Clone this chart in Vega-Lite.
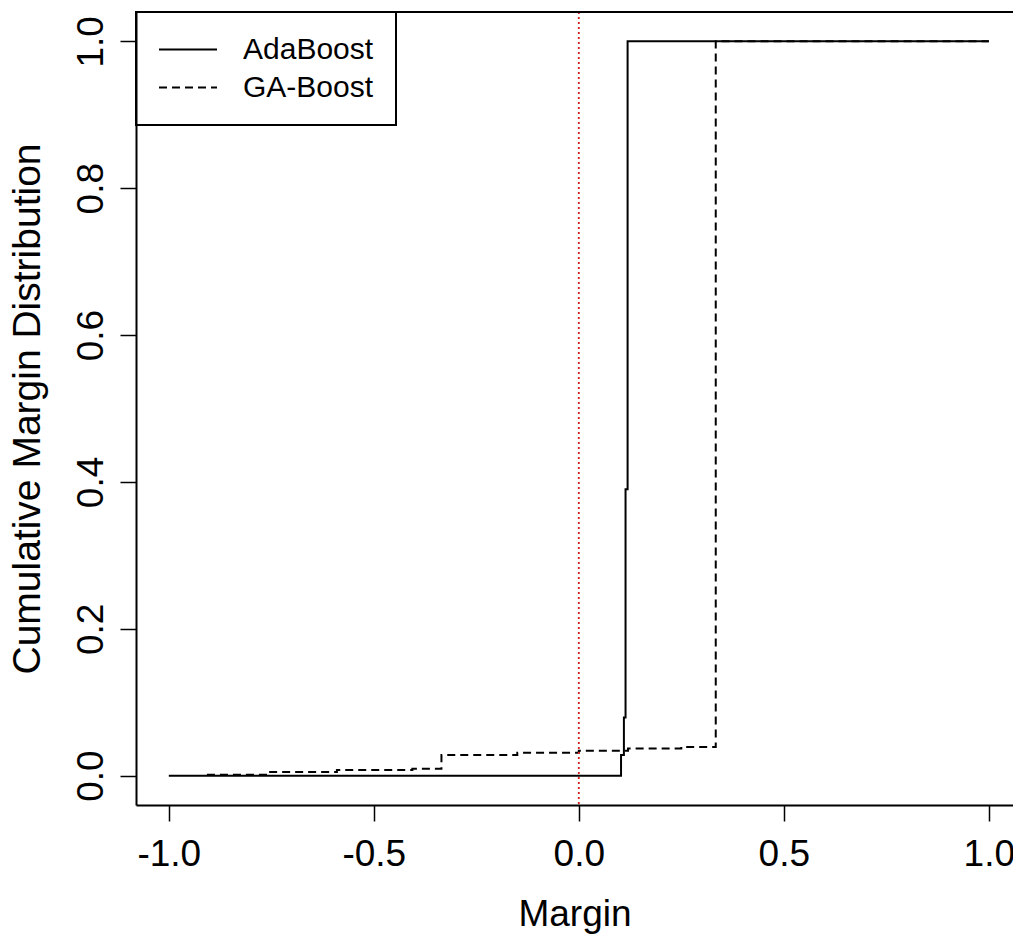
{
  "$schema": "https://vega.github.io/schema/vega-lite/v6.json",
  "width": 877,
  "height": 793,
  "autosize": {"type": "none"},
  "padding": {"left": 136, "top": 12, "right": 0, "bottom": 129},
  "background": "white",
  "config": {
    "view": {"stroke": null},
    "font": "Liberation Sans",
    "axis": {
      "grid": false,
      "domainColor": "black",
      "domainWidth": 2,
      "tickColor": "black",
      "tickWidth": 1.5,
      "tickSize": 16,
      "labelColor": "black",
      "titleColor": "black",
      "labelFont": "Liberation Sans",
      "titleFont": "Liberation Sans",
      "labelFontSize": 37,
      "titleFontWeight": "normal"
    }
  },
  "datasets": {
    "curves": [
      {"method": "AdaBoost", "margin": -1.0, "cdf": 0},
      {"method": "AdaBoost", "margin": 0.103, "cdf": 0.028},
      {"method": "AdaBoost", "margin": 0.110, "cdf": 0.079},
      {"method": "AdaBoost", "margin": 0.114, "cdf": 0.39},
      {"method": "AdaBoost", "margin": 0.119, "cdf": 1.0},
      {"method": "AdaBoost", "margin": 1.0, "cdf": 1.0},
      {"method": "GA-Boost", "margin": -0.907, "cdf": 0.0012},
      {"method": "GA-Boost", "margin": -0.763, "cdf": 0.005},
      {"method": "GA-Boost", "margin": -0.59, "cdf": 0.0076},
      {"method": "GA-Boost", "margin": -0.406, "cdf": 0.0094},
      {"method": "GA-Boost", "margin": -0.335, "cdf": 0.028},
      {"method": "GA-Boost", "margin": -0.15, "cdf": 0.031},
      {"method": "GA-Boost", "margin": 0.0, "cdf": 0.034},
      {"method": "GA-Boost", "margin": 0.12, "cdf": 0.037},
      {"method": "GA-Boost", "margin": 0.25, "cdf": 0.039},
      {"method": "GA-Boost", "margin": 0.334, "cdf": 1.0},
      {"method": "GA-Boost", "margin": 1.0, "cdf": 1.0}
    ],
    "zeroline": [{"margin": 0}],
    "topedge": [{"cdf": 1.04}]
  },
  "layer": [
    {
      "data": {"name": "curves"},
      "mark": {"type": "line", "interpolate": "step-after", "color": "black", "strokeWidth": 2},
      "encoding": {
        "x": {
          "field": "margin",
          "type": "quantitative",
          "scale": {"domain": [-1.08, 1.059], "nice": false, "zero": false},
          "axis": {
            "values": [-1, -0.5, 0, 0.5, 1],
            "format": ".1f",
            "labelExpr": "replace(datum.label, '\u2212', '-')",
            "title": "Margin",
            "titleFontSize": 37,
            "labelPadding": 44,
            "labelBaseline": "alphabetic",
            "titleY": 120,
            "titleBaseline": "alphabetic"
          }
        },
        "y": {
          "field": "cdf",
          "type": "quantitative",
          "scale": {"domain": [-0.04, 1.04], "nice": false, "zero": false},
          "axis": {
            "values": [0, 0.2, 0.4, 0.6, 0.8, 1],
            "format": ".1f",
            "title": "Cumulative Margin Distribution",
            "titleFontSize": 39,
            "labelAngle": 270,
            "labelAlign": "center",
            "labelBaseline": "alphabetic",
            "labelPadding": 18,
            "titleAngle": 270,
            "titleX": -97,
            "titleBaseline": "alphabetic"
          }
        },
        "strokeDash": {
          "field": "method",
          "type": "nominal",
          "scale": {"domain": ["AdaBoost", "GA-Boost"], "range": [[1, 0], [8, 5]]},
          "legend": {
            "title": null,
            "orient": "top-left",
            "offset": 0,
            "padding": 22,
            "strokeColor": "black",
            "symbolType": "M-1,0H3",
            "symbolSize": 841,
            "symbolStrokeWidth": 2,
            "symbolStrokeColor": "black",
            "symbolFillColor": "transparent",
            "labelOffset": 54,
            "labelFontSize": 30,
            "labelColor": "black",
            "labelFont": "Liberation Sans",
            "rowPadding": 7,
            "encode": {"legend": {"update": {"strokeWidth": {"value": 2}}}}
          }
        }
      }
    },
    {
      "data": {"name": "zeroline"},
      "mark": {"type": "rule", "color": "#D42020", "strokeDash": [2, 3], "strokeWidth": 1.8},
      "encoding": {"x": {"field": "margin", "type": "quantitative"}}
    },
    {
      "data": {"name": "topedge"},
      "mark": {"type": "rule", "color": "black", "strokeWidth": 2},
      "encoding": {"y": {"field": "cdf", "type": "quantitative"}}
    }
  ]
}
